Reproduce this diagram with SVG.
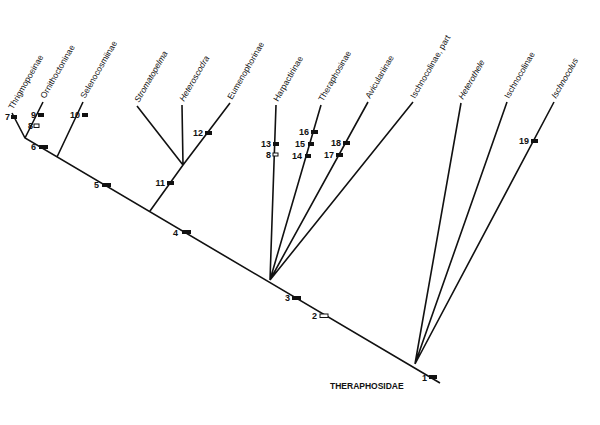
<svg xmlns="http://www.w3.org/2000/svg" width="600" height="425" viewBox="0 0 600 425">
<style>
.l{stroke:#111;stroke-width:1.6;fill:none}
.t{font-family:"Liberation Sans",Arial,sans-serif;font-size:8.5px;fill:#111}
.i{font-style:italic}
.n{font-family:"Liberation Sans",Arial,sans-serif;font-size:9px;font-weight:bold;fill:#111;text-anchor:end}
.b{fill:#111}
.o{fill:#fff;stroke:#111;stroke-width:1}
</style>
<rect width="600" height="425" fill="#fff"/>
<g id="connectors">
<path class="l" d="M440,383 L25,138 L12,113 M25,138 L43,102 M57,157 L83,102 M150,211 L183,165 L230,103 M183,165 L137,106 M183,165 L182,105 M270,280 L276,105 M270,280 L321,105 M270,280 L368,102 M270,280 L413,102 M415,364 L461,103 M415,364 L507,102 M415,364 L554,102"/>
</g>
<g id="labels">
<text class="t" transform="translate(13,110) rotate(-60)">Thrigmopoeinae</text>
<text class="t" transform="translate(45,99) rotate(-60)">Ornithoctoninae</text>
<text class="t" transform="translate(85,99) rotate(-60)">Selenocosmiinae</text>
<text class="t i" transform="translate(139,103) rotate(-60)">Stromatopelma</text>
<text class="t i" transform="translate(184,102) rotate(-60)">Heteroscodra</text>
<text class="t" transform="translate(232,100) rotate(-60)">Eumenophorinae</text>
<text class="t" transform="translate(278,102) rotate(-60)">Harpactirinae</text>
<text class="t" transform="translate(323,102) rotate(-60)">Theraphosinae</text>
<text class="t" transform="translate(370,99) rotate(-60)">Aviculariinae</text>
<text class="t" transform="translate(415,99) rotate(-60)">Ischnocolinae, part</text>
<text class="t i" transform="translate(463,100) rotate(-60)">Heterothele</text>
<text class="t" transform="translate(509,99) rotate(-60)">Ischnocolinae</text>
<text class="t i" transform="translate(556,99) rotate(-60)">Ischnocolus</text>
<text class="t" x="330" y="389" style="font-weight:bold;font-size:8.5px">THERAPHOSIDAE</text>
</g>
<g id="characters">
<rect class="b" x="429" y="375" width="8" height="4"/><text class="n" x="427" y="381">1</text>
<rect class="o" x="320" y="314" width="8" height="3.5"/><text class="n" x="317" y="319">2</text>
<rect class="b" x="292" y="296" width="9" height="4"/><text class="n" x="290" y="301">3</text>
<rect class="b" x="182" y="230" width="9" height="4"/><text class="n" x="178" y="236">4</text>
<rect class="b" x="102" y="183" width="9" height="4"/><text class="n" x="99" y="188">5</text>
<rect class="b" x="39" y="145" width="9" height="4"/><text class="n" x="36" y="150">6</text>
<rect class="b" x="11" y="115" width="6" height="4"/><text class="n" x="10" y="120">7</text>
<rect class="o" x="34" y="124" width="5" height="3.5"/><text class="n" x="33" y="129">8</text>
<rect class="b" x="38" y="113" width="6" height="4"/><text class="n" x="36" y="118">9</text>
<rect class="b" x="82" y="113" width="6" height="4"/><text class="n" x="80" y="118">10</text>
<rect class="b" x="167" y="181" width="7" height="4"/><text class="n" x="165" y="186">11</text>
<rect class="b" x="205" y="131" width="7" height="4"/><text class="n" x="203" y="136">12</text>
<rect class="b" x="273" y="142" width="6" height="4"/><text class="n" x="271" y="147">13</text>
<rect class="o" x="273" y="153" width="5" height="3"/><text class="n" x="271" y="158">8</text>
<rect class="b" x="305" y="154" width="6" height="4"/><text class="n" x="302" y="159">14</text>
<rect class="b" x="308" y="142" width="6" height="4"/><text class="n" x="305" y="147">15</text>
<rect class="b" x="311" y="130" width="7" height="4"/><text class="n" x="309" y="135">16</text>
<rect class="b" x="336" y="153" width="7" height="4"/><text class="n" x="334" y="158">17</text>
<rect class="b" x="343" y="141" width="7" height="4"/><text class="n" x="341" y="146">18</text>
<rect class="b" x="531" y="139" width="7" height="4"/><text class="n" x="529" y="144">19</text>
</g>
</svg>
